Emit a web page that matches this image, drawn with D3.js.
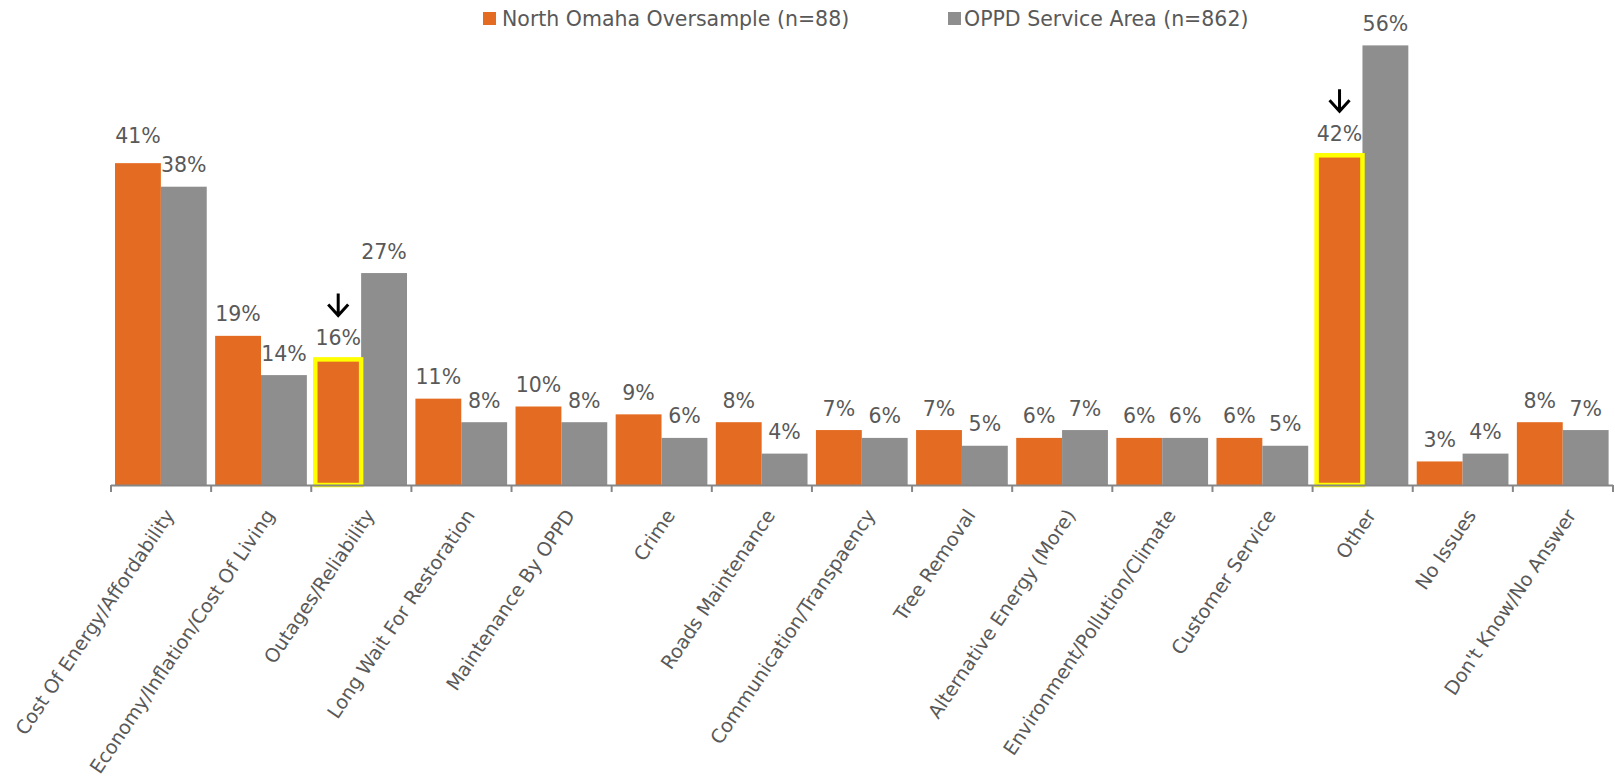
<!DOCTYPE html>
<html>
<head>
<meta charset="utf-8">
<script src="https://cdn.jsdelivr.net/npm/d3@7"></script>
<style>
  body { margin: 0; background: #fff; }
  svg { display: block; }
  text { font-family: 'DejaVu Sans', sans-serif; fill: #595959; }
</style>
</head>
<body>
<svg id="chart" width="1615" height="783"></svg>
<script>
// Issues mentioned, share of respondents (%)
const categories = [
  "Cost Of Energy/Affordability",
  "Economy/Inflation/Cost Of Living",
  "Outages/Reliability",
  "Long Wait For Restoration",
  "Maintenance By OPPD",
  "Crime",
  "Roads Maintenance",
  "Communication/Transpaency",
  "Tree Removal",
  "Alternative Energy (More)",
  "Environment/Pollution/Climate",
  "Customer Service",
  "Other",
  "No Issues",
  "Don't Know/No Answer"
];
const seriesNames = ["North Omaha Oversample (n=88)", "OPPD Service Area (n=862)"];
const northOmaha  = [41, 19, 16, 11, 10, 9, 8, 7, 7, 6, 6, 6, 42, 3, 8];
const serviceArea = [38, 14, 27,  8,  8, 6, 4, 6, 5, 7, 6, 5, 56, 4, 7];
// North Omaha bars called out with a yellow outline and an arrow
const highlighted = ["Outages/Reliability", "Other"];

const svg = d3.select("#chart");
const axisY = 485;

const x0 = d3.scaleBand().domain(categories).range([111, 1613]).padding(0);
const x1 = d3.scaleBand().domain(seriesNames).range([4, x0.bandwidth() - 4.4]).padding(0);
const y = d3.scaleLinear().domain([0, 60]).range([axisY, axisY - 60 * 7.85]);
const color = d3.scaleOrdinal().domain(seriesNames).range(["#E46C22", "#8E8E8E"]);

const rows = categories.map((c, i) => ({
  cat: c,
  vals: [
    { s: seriesNames[0], v: northOmaha[i], cat: c },
    { s: seriesNames[1], v: serviceArea[i], cat: c }
  ]
}));

// Bars
const groups = svg.append("g").selectAll("g")
  .data(rows).join("g")
  .attr("transform", d => `translate(${x0(d.cat)},0)`);

groups.selectAll("rect.bar")
  .data(d => d.vals).join("rect")
  .attr("class", "bar")
  .attr("x", d => x1(d.s))
  .attr("y", d => y(d.v))
  .attr("width", x1.bandwidth())
  .attr("height", d => axisY - y(d.v))
  .attr("fill", d => color(d.s));

// Highlight outlines
groups.selectAll("rect.hl")
  .data(d => d.vals.filter(v => v.s === seriesNames[0] && highlighted.includes(v.cat)))
  .join("rect")
  .attr("class", "hl")
  .attr("x", d => x1(d.s))
  .attr("y", d => y(d.v))
  .attr("width", x1.bandwidth())
  .attr("height", d => axisY - y(d.v))
  .attr("fill", "none")
  .attr("stroke", "#FFFF00")
  .attr("stroke-width", 4.5);

// Value labels; the first group's left label sits a little higher to clear its neighbour
const labelLift = { "Cost Of Energy/Affordability": 6 };
groups.selectAll("text.val")
  .data(d => d.vals).join("text")
  .attr("class", "val")
  .attr("x", d => x1(d.s) + x1.bandwidth() / 2)
  .attr("y", d => y(d.v) - 14.5 - (d.s === seriesNames[0] ? (labelLift[d.cat] || 0) : 0))
  .attr("text-anchor", "middle")
  .style("font-size", "20.5px")
  .text(d => d3.format(".0%")(d.v / 100));

// Arrows above highlighted labels
groups.selectAll("path.arrow")
  .data(d => d.vals.filter(v => v.s === seriesNames[0] && highlighted.includes(v.cat)))
  .join("path")
  .attr("class", "arrow")
  .attr("d", d => {
    const cx = x1(d.s) + x1.bandwidth() / 2;
    const yb = y(d.v) - 43;
    return `M${cx},${yb - 23}L${cx},${yb - 1}M${cx - 10},${yb - 12}L${cx},${yb - 1}L${cx + 10},${yb - 12}`;
  })
  .attr("fill", "none")
  .attr("stroke", "#000")
  .attr("stroke-width", 3);

// Category axis
const axis = svg.append("g");
const [r0, r1] = x0.range();
axis.append("line")
  .attr("x1", r0).attr("x2", r1)
  .attr("y1", axisY + 0.5).attr("y2", axisY + 0.5)
  .attr("stroke", "#868686").attr("stroke-width", 2);
axis.selectAll("line.tick")
  .data(categories.map(c => x0(c)).concat([r1]))
  .join("line")
  .attr("class", "tick")
  .attr("x1", d => d).attr("x2", d => d)
  .attr("y1", axisY).attr("y2", axisY + 7)
  .attr("stroke", "#868686").attr("stroke-width", 2);

axis.selectAll("text.cat")
  .data(categories).join("text")
  .attr("class", "cat")
  .attr("transform", d => `translate(${x0(d) + x0.bandwidth() / 2 + 2},${axisY + 22}) rotate(-56)`)
  .attr("text-anchor", "end")
  .attr("dy", "0.76em")
  .style("font-size", "19.2px")
  .text(d => d);

// Legend
const legendPos = [483, 948];
const legend = svg.append("g").selectAll("g")
  .data(seriesNames).join("g")
  .attr("transform", (d, i) => `translate(${legendPos[i]},0)`);
legend.append("rect")
  .attr("x", 0).attr("y", 12).attr("width", 13).attr("height", 13)
  .attr("fill", d => color(d));
legend.append("text")
  .attr("x", (d, i) => i === 0 ? 19 : 16)
  .attr("y", 26)
  .style("font-size", "20.5px")
  .text(d => d);
</script>
</body>
</html>
